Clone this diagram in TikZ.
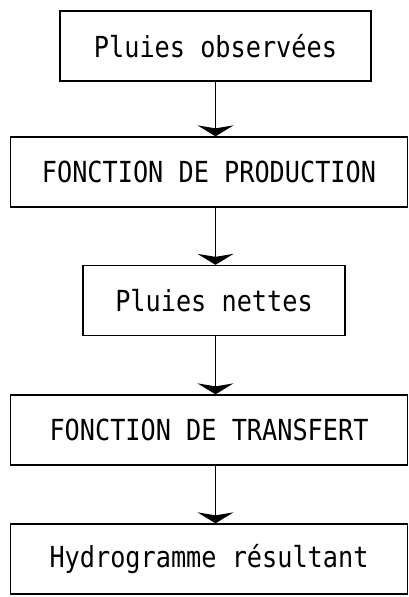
\documentclass[tikz,border=0pt]{standalone}
\usepackage{fontspec}
\newfontfamily\printfont[FakeStretch=0.87]{DejaVu Sans Mono}
\usetikzlibrary{positioning,arrows.meta}

\begin{document}
\begin{tikzpicture}[
  x=1pt, y=-1pt,
  font=\printfont\fontsize{29pt}{32pt}\selectfont,
  box/.style={draw, line width=1.3pt, align=center, minimum height=70pt, inner sep=0pt},
  arrow/.style={-{Stealth[length=11pt, width=36pt, inset=3pt]}, line width=1.3pt}
]
\useasboundingbox (0,0) rectangle (409,597);
\node[box, minimum width=311pt] (pluies) at (215.5,46) {Pluies observées};
\node[box, minimum width=397pt] (prod) at (209,172) {FONCTION DE PRODUCTION};
\node[box, minimum width=262pt] (nettes) at (214,300.5) {Pluies nettes};
\node[box, minimum width=397pt] (transf) at (209,430) {FONCTION DE TRANSFERT};
\node[box, minimum width=397pt] (hydro) at (209,559) {Hydrogramme résultant};

\draw[arrow] (pluies.south) -- (pluies.south |- prod.north);
\draw[arrow] (pluies.south |- prod.south) -- (pluies.south |- nettes.north);
\draw[arrow] (pluies.south |- nettes.south) -- (pluies.south |- transf.north);
\draw[arrow] (pluies.south |- transf.south) -- (pluies.south |- hydro.north);
\end{tikzpicture}
\end{document}
